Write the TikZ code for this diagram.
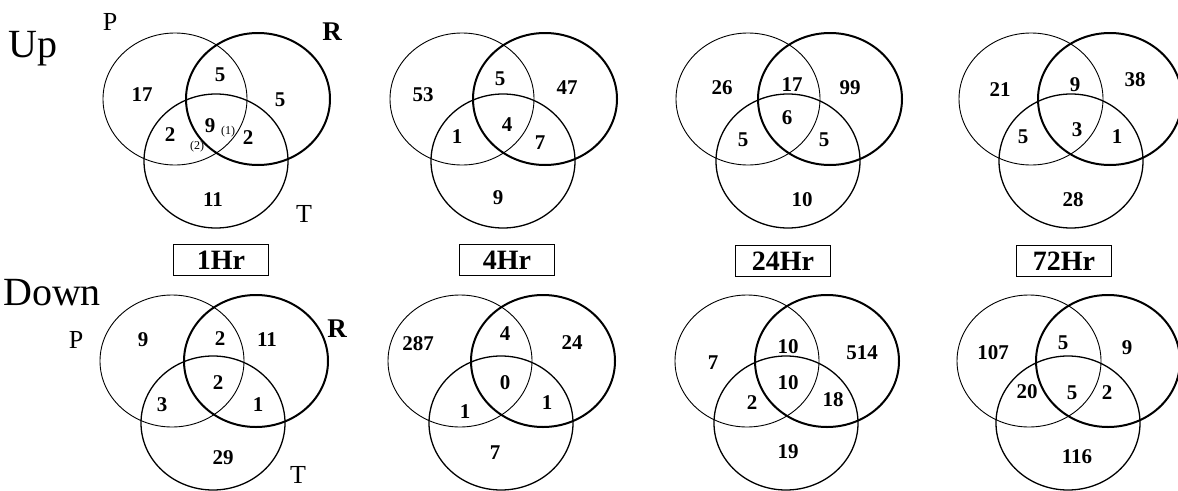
\documentclass[tikz,border=0pt]{standalone}
\usepackage{fontspec}
\setmainfont{Liberation Serif}
\usetikzlibrary{shapes.geometric}

\tikzset{
  vennset/.style={ellipse, draw=black, inner sep=0pt,
    minimum width=144pt, minimum height=132pt},
  setP/.style={vennset, line width=0.9pt},
  setR/.style={vennset, line width=2pt},
  setT/.style={vennset, line width=1.3pt, minimum height=134pt},
  count/.style={inner sep=0pt, font=\fontsize{21}{21}\selectfont\bfseries},
  subcount/.style={inner sep=0pt, font=\fontsize{12}{12}\selectfont},
  rowlabel/.style={inner sep=0pt, anchor=base west, font=\fontsize{40}{40}\selectfont},
  setlabel/.style={inner sep=0pt, font=\fontsize{26}{26}\selectfont},
  setlabelR/.style={inner sep=0pt, font=\fontsize{27}{27}\selectfont\bfseries},
  timebox/.style={draw=black, line width=1.4pt, inner sep=0pt,
    minimum width=95pt, minimum height=31pt,
    font=\fontsize{28}{28}\selectfont\bfseries}
}

% three-set diagram: #1 name suffix, #2 centre x of P, #3 centre y of P and R,
% #4 offset of R, #5 offset of T
\newcommand\vennthree[5]{%
  \node[setP] (P#1) at (#2,#3) {};
  \node[setR] (R#1) at ({#2+#4},#3) {};
  \node[setT] (T#1) at ({#2+#5},{#3+62}) {};
}

\begin{document}
\begin{tikzpicture}[x=1pt, y=-1pt]
\useasboundingbox (0,0) rectangle (1178,490);

% row labels
\node[rowlabel] (up) at (8,57) {Up};
\node[rowlabel] (down) at (3,305) {Down};

% circles of the up-regulated row
\vennthree{u1}{175}{99}{83}{41}
\vennthree{u2}{462}{99}{83}{41}
\vennthree{u3}{748}{99}{82}{40}
\vennthree{u4}{1031}{99}{79}{40}

% circles of the down-regulated row
\vennthree{d1}{172}{361}{84}{41}
\vennthree{d2}{460}{361}{83}{41}
\vennthree{d3}{747}{361}{80}{39}
\vennthree{d4}{1029}{361}{79}{39}

% set names
\node[setlabel] (labPu) at (110,22) {P};
\node[setlabelR] (labRu) at (332,32) {R};
\node[setlabel] (labTu) at (304,214) {T};
\node[setlabel] (labPd) at (76,340) {P};
\node[setlabelR] (labRd) at (337,329) {R};
\node[setlabel] (labTd) at (298,475) {T};

% time points
\node[timebox] (h1) at (221,260) {1Hr};
\node[timebox] (h4) at (507,260) {4Hr};
\node[timebox] (h24) at (783,261) {24Hr};
\node[timebox] (h72) at (1064,261) {72Hr};

% counts, up 1Hr
\node[count] (u1a) at (142,95) {17};
\node[count] (u1b) at (220,75) {5};
\node[count] (u1c) at (280,100) {5};
\node[count] (u1d) at (170,135) {2};
\node[count] (u1e) at (210,126) {9};
\node[subcount] (u1e1) at (228,132) {(1)};
\node[subcount] (u1e2) at (197,147) {(2)};
\node[count] (u1f) at (248,138) {2};
\node[count] (u1g) at (213,200) {11};

% counts, up 4Hr
\node[count] (u2a) at (423,95) {53};
\node[count] (u2b) at (500,79) {5};
\node[count] (u2c) at (567,88) {47};
\node[count] (u2d) at (457,137) {1};
\node[count] (u2e) at (507,125) {4};
\node[count] (u2f) at (540,143) {7};
\node[count] (u2g) at (498,198) {9};

% counts, up 24Hr
\node[count] (u3a) at (722,88) {26};
\node[count] (u3b) at (792,85) {17};
\node[count] (u3c) at (850,88) {99};
\node[count] (u3d) at (743,140) {5};
\node[count] (u3e) at (787,118) {6};
\node[count] (u3f) at (824,140) {5};
\node[count] (u3g) at (802,200) {10};

% counts, up 72Hr
\node[count] (u4a) at (1000,90) {21};
\node[count] (u4b) at (1075,85) {9};
\node[count] (u4c) at (1135,80) {38};
\node[count] (u4d) at (1023,137) {5};
\node[count] (u4e) at (1077,130) {3};
\node[count] (u4f) at (1117,137) {1};
\node[count] (u4g) at (1073,200) {28};

% counts, down 1Hr
\node[count] (d1a) at (143,340) {9};
\node[count] (d1b) at (220,339) {2};
\node[count] (d1c) at (267,340) {11};
\node[count] (d1d) at (162,405) {3};
\node[count] (d1e) at (218,383) {2};
\node[count] (d1f) at (258,405) {1};
\node[count] (d1g) at (223,458) {29};

% counts, down 4Hr
\node[count] (d2a) at (418,344) {287};
\node[count] (d2b) at (505,334) {4};
\node[count] (d2c) at (572,343) {24};
\node[count] (d2d) at (465,412) {1};
\node[count] (d2e) at (505,383) {0};
\node[count] (d2f) at (547,403) {1};
\node[count] (d2g) at (495,453) {7};

% counts, down 24Hr
\node[count] (d3a) at (713,363) {7};
\node[count] (d3b) at (788,347) {10};
\node[count] (d3c) at (862,353) {514};
\node[count] (d3d) at (752,403) {2};
\node[count] (d3e) at (788,383) {10};
\node[count] (d3f) at (833,400) {18};
\node[count] (d3g) at (788,452) {19};

% counts, down 72Hr
\node[count] (d4a) at (993,353) {107};
\node[count] (d4b) at (1063,343) {5};
\node[count] (d4c) at (1127,348) {9};
\node[count] (d4d) at (1027,392) {20};
\node[count] (d4e) at (1072,393) {5};
\node[count] (d4f) at (1107,393) {2};
\node[count] (d4g) at (1077,457) {116};
\end{tikzpicture}
\end{document}
